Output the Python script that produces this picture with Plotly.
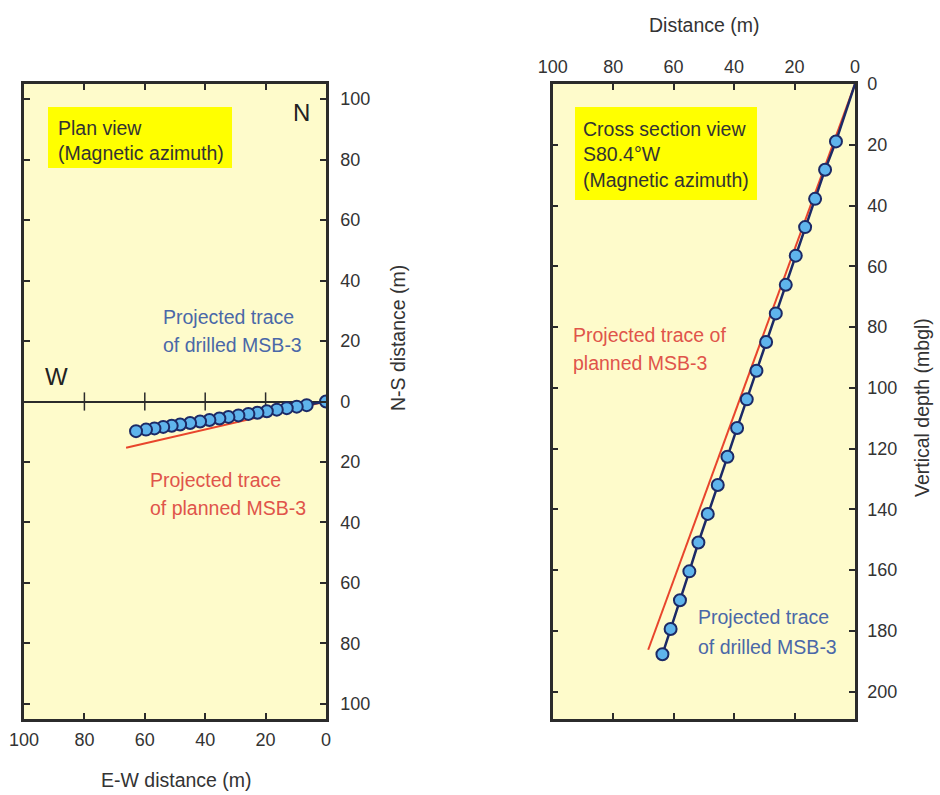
import plotly.graph_objects as go

W, H = 940, 795

# ---------------- data ----------------
# Plan view: drilled trace (west distance m, south distance m; south shown negative)
plan_west = [0, 6.4, 9.7, 13.0, 16.3, 19.6, 22.7, 25.7, 29.0, 32.3, 35.3, 38.6,
             41.7, 45.0, 48.3, 51.1, 53.9, 56.8, 59.6, 62.9]
plan_south = [0, 1.2, 1.7, 2.2, 2.7, 3.2, 3.7, 4.1, 4.6, 5.1, 5.6, 6.1,
              6.6, 7.1, 7.6, 8.0, 8.4, 8.9, 9.3, 9.8]
plan_planned_west = [0, 66.2]
plan_planned_south = [0, 15.3]

# Cross section: drilled trace (distance m, vertical depth mbgl)
cs_dist = [0, 6.3, 9.9, 13.2, 16.5, 19.6, 22.9, 26.2, 29.4, 32.6, 35.8, 39.0,
           42.2, 45.4, 48.7, 51.8, 54.8, 57.9, 61.0, 63.7]
cs_depth = [0, 18.9, 28.2, 37.8, 47.1, 56.5, 66.1, 75.5, 84.9, 94.4, 103.8, 113.2,
            122.7, 132.0, 141.5, 150.9, 160.4, 169.9, 179.4, 187.7]
cs_planned_dist = [0, 68.4]
cs_planned_depth = [0, 186.2]

ew_ticks = [0, 20, 40, 60, 80, 100]
ns_ticks = [-100, -80, -60, -40, -20, 0, 20, 40, 60, 80, 100]
ns_ticktext = [str(abs(v)) for v in ns_ticks]
depth_ticks = [0, 20, 40, 60, 80, 100, 120, 140, 160, 180, 200]
zero_line_ticks = [20, 40, 60, 80]

# ---------------- style ----------------
FONT = "Liberation Sans, Arial, sans-serif"
NAVY = "#1c2a66"
MFILL = "#5fb4ec"
RED = "#e8452c"
BLUE_TXT = "#4a68a8"
RED_TXT = "#e0544a"
DARK = "#2b2b2b"
BG = "#fefbcb"

fig = go.Figure()

# Plan view
fig.add_trace(go.Scatter(x=plan_planned_west, y=[-v for v in plan_planned_south],
                         mode="lines", line=dict(color=RED, width=2),
                         xaxis="x", yaxis="y", hoverinfo="skip"))
fig.add_trace(go.Scatter(x=zero_line_ticks, y=[0] * len(zero_line_ticks), mode="markers",
                         marker=dict(symbol="line-ns", size=13, line=dict(color=DARK, width=1.5)),
                         xaxis="x", yaxis="y", hoverinfo="skip"))
fig.add_trace(go.Scatter(x=plan_west, y=[-v for v in plan_south], mode="lines+markers",
                         line=dict(color=NAVY, width=2.5),
                         marker=dict(size=12, color=MFILL, line=dict(color=NAVY, width=2)),
                         xaxis="x", yaxis="y"))

# Cross section
fig.add_trace(go.Scatter(x=cs_planned_dist, y=cs_planned_depth, mode="lines",
                         line=dict(color=RED, width=2), xaxis="x2", yaxis="y2", hoverinfo="skip"))
fig.add_trace(go.Scatter(x=cs_dist, y=cs_depth, mode="lines",
                         line=dict(color=NAVY, width=2.5), xaxis="x2", yaxis="y2"))
fig.add_trace(go.Scatter(x=cs_dist[1:], y=cs_depth[1:], mode="markers",
                         marker=dict(size=12, color=MFILL, line=dict(color=NAVY, width=2)),
                         xaxis="x2", yaxis="y2"))

ydom = [1 - 719 / H, 1 - 84 / H]
axis_common = dict(showgrid=False, showline=True, linecolor=DARK, linewidth=2.5,
                   ticks="inside", ticklen=6, tickwidth=1.5, tickcolor=DARK,
                   mirror="ticks", tickfont=dict(family=FONT, size=18, color="#333333"),
                   fixedrange=True, automargin=False)

fig.update_layout(
    width=W, height=H, showlegend=False,
    margin=dict(l=0, r=0, t=0, b=0, pad=0, autoexpand=False),
    paper_bgcolor="white", plot_bgcolor=BG,
    xaxis=dict(domain=[24 / W, 326 / W], range=[100, 0], tickvals=ew_ticks,
               side="bottom", anchor="y", zeroline=False, ticklabelstandoff=3, **axis_common),
    yaxis=dict(domain=ydom, range=[-105, 105], tickvals=ns_ticks, ticktext=ns_ticktext,
               side="right", anchor="x", zeroline=True, zerolinecolor=DARK, zerolinewidth=1.5,
               ticklabelstandoff=8, **axis_common),
    xaxis2=dict(domain=[552.7 / W, 855 / W], range=[100, 0], tickvals=ew_ticks,
                side="top", anchor="y2", zeroline=False, ticklabelstandoff=1, **axis_common),
    yaxis2=dict(domain=ydom, range=[209, 0], tickvals=depth_ticks,
                side="right", anchor="x2", zeroline=False, ticklabelstandoff=6, **axis_common),
)

# yellow label boxes
fig.add_shape(type="rect", xref="paper", yref="paper", x0=48 / W, x1=232 / W,
              y0=1 - 168 / H, y1=1 - 107 / H, fillcolor="#ffff00", line=dict(width=0), layer="below")
fig.add_shape(type="rect", xref="paper", yref="paper", x0=575 / W, x1=757 / W,
              y0=1 - 200 / H, y1=1 - 107 / H, fillcolor="#ffff00", line=dict(width=0), layer="below")


def ann(text, x, y, size=19.5, color="#333333", xanchor="left", angle=0):
    fig.add_annotation(text=text, xref="paper", yref="paper", x=x / W, y=1 - y / H,
                       xanchor=xanchor, yanchor="middle", showarrow=False, align="left",
                       textangle=angle, font=dict(family=FONT, size=size, color=color))


ann("Plan view<br>(Magnetic azimuth)", 56, 140.5)
ann("Cross section view<br>S80.4°W<br>(Magnetic azimuth)", 581, 154.5)
ann("N", 301, 113, size=24, color="#222222", xanchor="center")
ann("W", 56, 376, size=24, color="#222222", xanchor="center")

ann("Projected trace", 161, 317, color=BLUE_TXT)
ann("of drilled MSB-3", 161, 345, color=BLUE_TXT)
ann("Projected trace", 148, 480, color=RED_TXT)
ann("of planned MSB-3", 148, 508, color=RED_TXT)
ann("Projected trace of", 571, 335, color=RED_TXT)
ann("planned MSB-3", 571, 363, color=RED_TXT)
ann("Projected trace", 696, 617, color=BLUE_TXT)
ann("of drilled MSB-3", 696, 647, color=BLUE_TXT)

# axis titles
ann("E-W distance (m)", 176, 780, xanchor="center")
ann("N-S distance (m)", 398, 338, xanchor="center", angle=-90)
ann("Distance (m)", 704, 25, xanchor="center")
ann("Vertical depth (mbgl)", 922, 408, xanchor="center", angle=-90)

fig.write_html(
    "out.html",
    config={"displayModeBar": False},
    post_script="document.body.style.margin='0px';document.body.style.overflow='hidden';",
)
